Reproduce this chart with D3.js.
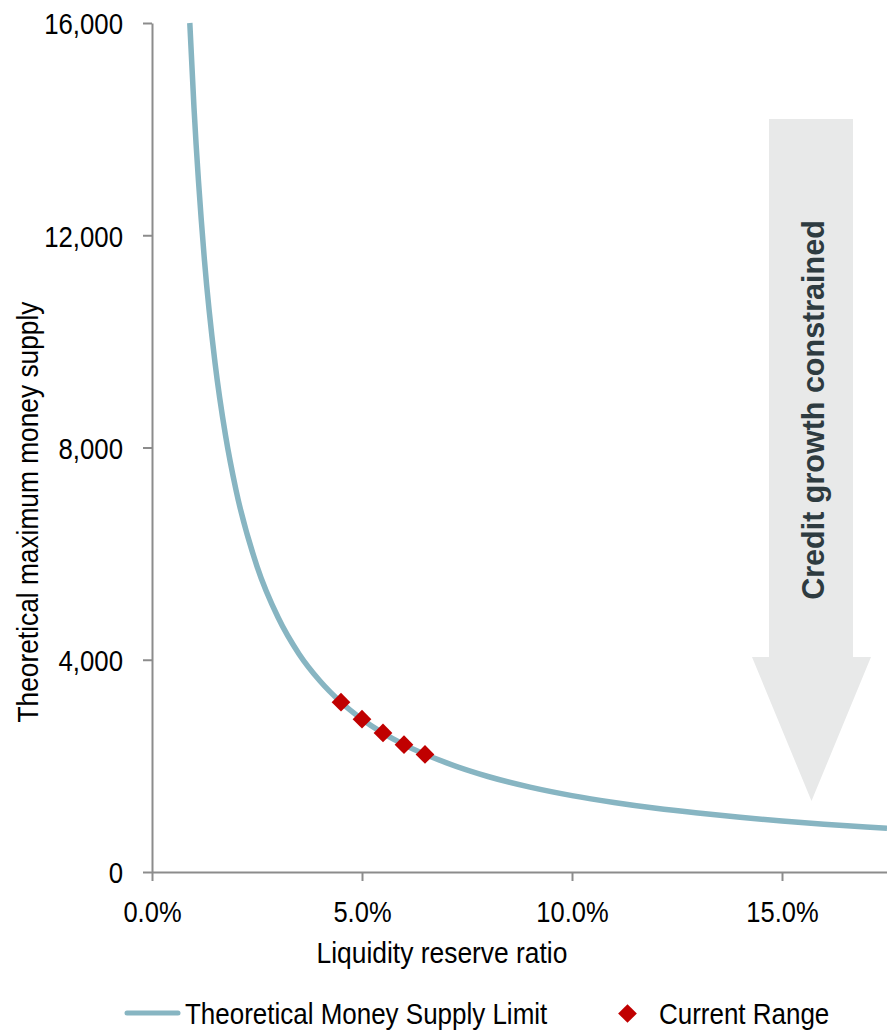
<!DOCTYPE html>
<html><head><meta charset="utf-8">
<script src="https://cdnjs.cloudflare.com/ajax/libs/d3/7.8.5/d3.min.js"></script>
<style>body{margin:0;background:#fff}svg{display:block}text{font-family:"Liberation Sans",Arial,sans-serif}</style>
</head><body><svg id="c" width="887" height="1031"></svg>
<script>
// Theoretical money supply limit curve (reserve ratio %, money supply)
const curveRatio = [0.9, 1.0, 1.25, 1.5, 1.75, 2.0, 2.5, 3.0, 3.5, 4.0, 4.5, 5.0, 6.0, 7.0, 8.0, 9.0, 10.0, 11.0, 12.0, 13.0, 14.0, 15.0, 16.0, 17.0, 17.5];
const curveSupply = [16000, 14400, 11520, 9600, 8230, 7200, 5760, 4800, 4110, 3600, 3200, 2880, 2400, 2060, 1800, 1600, 1440, 1310, 1200, 1110, 1030, 960, 900, 850, 823];
// Current range points
const rangeRatio = [4.5, 5.0, 5.5, 6.0, 6.5];
const rangeSupply = [3200, 2880, 2620, 2400, 2215];
const yTicks = [0, 4000, 8000, 12000, 16000];
const xTicks = [0, 5, 10, 15];
const seriesNames = ["Theoretical Money Supply Limit", "Current Range"];
const annotation = "Credit growth constrained";

const svg = d3.select("#c");
const x = d3.scaleLinear().domain([0, 17.5]).range([152, 887]);
const y = d3.scaleLinear().domain([0, 16000]).range([872, 23]);
const axisColor = "#8c8c8c";
const FS = 30;

function narrow(sel, s) {
  sel.each(function () {
    const t = d3.select(this);
    const ax = +t.attr("x") || 0;
    const prev = t.attr("transform") || "";
    t.attr("transform", prev + ` translate(${ax},0) scale(${s},1) translate(${-ax},0)`);
  });
}

// Arrow annotation
const ax0 = 769, ax1 = 853, atop = 119, ahead = 657, aw0 = 752, aw1 = 871, atipY = 801;
svg.append("path")
  .attr("d", `M${ax0},${atop}L${ax1},${atop}L${ax1},${ahead}L${aw1},${ahead}L${(aw0+aw1)/2},${atipY}L${aw0},${ahead}L${ax0},${ahead}Z`)
  .attr("fill", "#e8e9e9");
svg.append("text")
  .attr("transform", `translate(824,410) rotate(-90)`)
  .attr("text-anchor", "middle")
  .attr("font-weight", "bold").attr("font-size", 30.5)
  .attr("fill", "#2e3b40").text(annotation);

// Y axis
const yAxis = d3.axisLeft(y).tickValues(yTicks).tickFormat(d3.format(",")).tickSize(9).tickSizeOuter(0);
const gy = svg.append("g").attr("transform", "translate(152,0)").call(yAxis);
gy.selectAll("path,line").attr("stroke", axisColor).attr("stroke-width", 2);
const yt = gy.selectAll("text").attr("font-size", FS).attr("fill", "#000").attr("x", -29).attr("dy", "0.36em");
narrow(yt, 0.86);

// X axis
const xAxis = d3.axisBottom(x).tickValues(xTicks).tickFormat(d => d.toFixed(1) + "%").tickSize(9).tickSizeOuter(0);
const gx = svg.append("g").attr("transform", "translate(0,872)").call(xAxis);
gx.selectAll("path,line").attr("stroke", axisColor).attr("stroke-width", 2);
const xt = gx.selectAll("text").attr("font-size", FS).attr("fill", "#000").attr("y", 50).attr("dy", "0");
narrow(xt, 0.85);
gy.select(".domain").raise();

// curve
const line = d3.line().x((d, i) => x(curveRatio[i])).y(d => y(d)).curve(d3.curveMonotoneX);
svg.append("path").datum(curveSupply).attr("d", line)
  .attr("fill", "none").attr("stroke", "#87b5c2").attr("stroke-width", 5.5);

// diamonds
const sym = d3.symbol().type(d3.symbolSquare).size(175);
svg.selectAll(".pt").data(rangeSupply).enter().append("path")
  .attr("transform", (d, i) => `translate(${x(rangeRatio[i])},${y(d)}) rotate(45)`)
  .attr("d", sym).attr("fill", "#c00000");

// axis titles
const xl = svg.append("text").attr("x", 442).attr("y", 963).attr("text-anchor", "middle")
  .attr("font-size", FS).attr("fill", "#000").text("Liquidity reserve ratio");
narrow(xl, 0.88);
const yl = svg.append("text").attr("transform", "translate(38,512) rotate(-90)").attr("text-anchor", "middle")
  .attr("font-size", FS).attr("fill", "#000").text("Theoretical maximum money supply");
narrow(yl, 0.877);

// legend
const lg = svg.append("g");
lg.append("line").attr("x1", 127).attr("x2", 178).attr("y1", 1013).attr("y2", 1013)
  .attr("stroke", "#87b5c2").attr("stroke-width", 5).attr("stroke-linecap", "round");
narrow(lg.append("text").attr("x", 185).attr("y", 1024).attr("font-size", FS).attr("fill", "#000").text(seriesNames[0]), 0.866);
lg.append("path").attr("transform", "translate(627.5,1013.5) rotate(45)").attr("d", sym).attr("fill", "#c00000");
narrow(lg.append("text").attr("x", 659).attr("y", 1024).attr("font-size", FS).attr("fill", "#000").text(seriesNames[1]), 0.866);
</script></body></html>
